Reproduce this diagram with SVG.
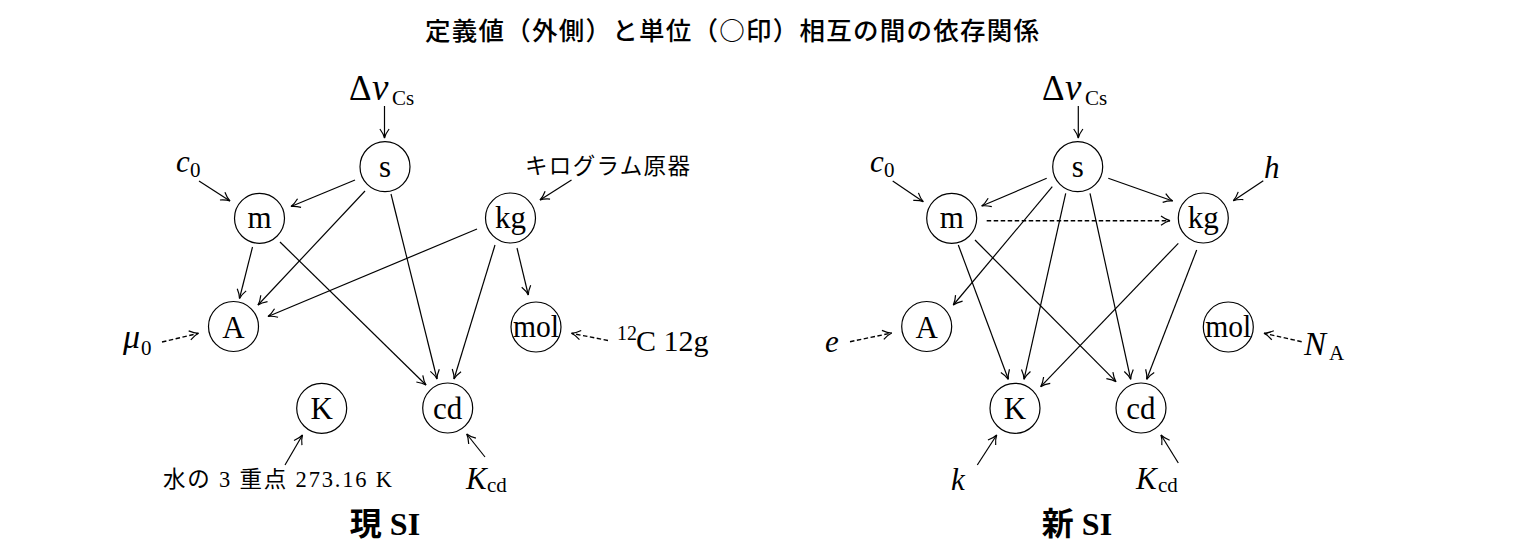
<svg xmlns="http://www.w3.org/2000/svg" width="1517" height="553" viewBox="0 0 1517 553">
<style>
.node circle{fill:#fff;stroke:#000;stroke-width:1.2}
.lbl{font-family:"Liberation Serif",serif;font-size:31px;text-anchor:middle;fill:#000}
.m{font-family:"Liberation Serif",serif;font-size:31px;font-style:italic;fill:#000}
.r{font-family:"Liberation Serif",serif;font-style:normal;fill:#000}
.sub{font-family:"Liberation Serif",serif;font-size:21px;font-style:normal;fill:#000}
.jp{font-family:"Noto Sans CJK JP",sans-serif;fill:#000}
.edges line{stroke:#000;stroke-width:1.2;fill:none;marker-end:url(#ah)}
.edges line.d{stroke-dasharray:4.5 2.5;stroke-width:1.4}
.ttl{font-family:"Liberation Serif","Noto Sans CJK JP",serif;font-weight:bold;font-size:32px;fill:#000;text-anchor:middle}
</style>
<defs>
<marker id="ah" viewBox="-11 -6 13 12" refX="0" refY="0" markerWidth="13" markerHeight="12" markerUnits="userSpaceOnUse" orient="auto">
<path d="M-9,-4.6 C-5.5,-2 -2.2,-0.5 0,0 C-2.2,0.5 -5.5,2 -9,4.6" fill="none" stroke="#000" stroke-width="1.2"/>
</marker>
</defs>
<rect width="1517" height="553" fill="#fff"/>
<text class="jp" x="425" y="40" font-size="25.5" font-weight="500" textLength="614" lengthAdjust="spacing">定義値（外側）と単位（○印）相互の間の依存関係</text>

<g class="edges" id="edges-left">
<line x1="384.5" y1="106" x2="384.5" y2="138"/>
<line x1="199" y1="181" x2="230" y2="201"/>
<line x1="355" y1="180" x2="291" y2="206.5"/>
<line x1="365" y1="191" x2="258" y2="305"/>
<line x1="391" y1="194" x2="437" y2="379"/>
<line x1="252.5" y1="247" x2="239.5" y2="298.5"/>
<line x1="280" y1="242" x2="426" y2="385"/>
<line x1="477" y1="229" x2="268" y2="316.5"/>
<line x1="495" y1="245" x2="454" y2="379"/>
<line x1="517" y1="248" x2="528.3" y2="295"/>
<line x1="571.5" y1="180" x2="540" y2="200"/>
<line class="d" x1="162" y1="342" x2="198.5" y2="333.3"/>
<line class="d" x1="608" y1="340.5" x2="571.5" y2="333.3"/>
<line x1="285" y1="465" x2="302.5" y2="435"/>
<line x1="485" y1="457" x2="466.7" y2="434"/>
</g>

<g class="edges" id="edges-right">
<line x1="1078.3" y1="106" x2="1078.3" y2="138"/>
<line x1="892.7" y1="181" x2="923.3" y2="201.7"/>
<line x1="1046.7" y1="178.3" x2="981.7" y2="206"/>
<line x1="1108.3" y1="178.3" x2="1172.7" y2="201"/>
<line class="d" x1="986.7" y1="220.7" x2="1170" y2="220.7"/>
<line x1="1052.3" y1="186.7" x2="953.3" y2="305"/>
<line x1="1065.7" y1="193.3" x2="1024" y2="379.3"/>
<line x1="1090" y1="193.3" x2="1130.7" y2="379.3"/>
<line x1="958.3" y1="245" x2="1008.3" y2="379.3"/>
<line x1="975" y1="240" x2="1116" y2="381.7"/>
<line x1="1178.3" y1="243.3" x2="1040.7" y2="386.7"/>
<line x1="1196.7" y1="250" x2="1146.7" y2="379.3"/>
<line x1="1263.3" y1="180.7" x2="1233.3" y2="200.7"/>
<line class="d" x1="850" y1="341.7" x2="891.7" y2="333"/>
<line class="d" x1="1301.7" y1="341.7" x2="1264" y2="333.3"/>
<line x1="977.3" y1="465" x2="996.7" y2="435"/>
<line x1="1178.3" y1="463" x2="1161" y2="435"/>
</g>

<g id="left-s" class="node"><circle cx="385" cy="166.7" r="25"/><text class="lbl" x="385" y="176.5">s</text></g>
<g id="left-m" class="node"><circle cx="259.5" cy="218.3" r="25"/><text class="lbl" x="259.5" y="228">m</text></g>
<g id="left-kg" class="node"><circle cx="510.5" cy="218" r="25"/><text class="lbl" x="510.5" y="228">kg</text></g>
<g id="left-A" class="node"><circle cx="233.5" cy="326.5" r="25"/><text class="lbl" x="233.5" y="337.5">A</text></g>
<g id="left-mol" class="node"><circle cx="536" cy="327" r="25"/><text class="lbl" x="536" y="337" font-size="29" textLength="46" lengthAdjust="spacingAndGlyphs">mol</text></g>
<g id="left-K" class="node"><circle cx="321.7" cy="408.3" r="25"/><text class="lbl" x="321.7" y="419">K</text></g>
<g id="left-cd" class="node"><circle cx="447.7" cy="408" r="25"/><text class="lbl" x="447.7" y="418.5">cd</text></g>

<g id="right-s" class="node"><circle cx="1077.7" cy="166.7" r="25"/><text class="lbl" x="1077.7" y="176.5">s</text></g>
<g id="right-m" class="node"><circle cx="951.7" cy="218.3" r="25"/><text class="lbl" x="951.7" y="228">m</text></g>
<g id="right-kg" class="node"><circle cx="1203.3" cy="218" r="25"/><text class="lbl" x="1203.3" y="228">kg</text></g>
<g id="right-A" class="node"><circle cx="926.7" cy="326.5" r="25"/><text class="lbl" x="926.7" y="337.5">A</text></g>
<g id="right-mol" class="node"><circle cx="1228.3" cy="327" r="25"/><text class="lbl" x="1228.3" y="337" font-size="29" textLength="46" lengthAdjust="spacingAndGlyphs">mol</text></g>
<g id="right-K" class="node"><circle cx="1015" cy="408.3" r="25"/><text class="lbl" x="1015" y="419">K</text></g>
<g id="right-cd" class="node"><circle cx="1141" cy="408" r="25"/><text class="lbl" x="1141" y="418.5">cd</text></g>

<g id="labels-left">
<text class="m" y="100"><tspan class="r" x="349" font-size="35">Δ</tspan><tspan x="372" font-size="37">ν</tspan><tspan class="sub" x="392" y="104.5" font-size="20">Cs</tspan></text>
<text class="m" y="172"><tspan x="176">c</tspan><tspan class="sub" x="190" y="177">0</tspan></text>
<text class="jp" x="525" y="174" font-size="22.5" textLength="165" lengthAdjust="spacing">キログラム原器</text>
<text class="m" y="348"><tspan x="123" font-size="34">μ</tspan><tspan class="sub" x="141" y="355">0</tspan></text>
<text class="r" y="351" font-size="30"><tspan x="617" y="340" font-size="20">12</tspan><tspan x="636" y="351">C 12g</tspan></text>
<text class="r" x="163" y="487" font-size="22.5" textLength="229" lengthAdjust="spacing"><tspan class="jp">水の</tspan> 3 <tspan class="jp">重点</tspan> 273.16 K</text>
<text class="m" y="489"><tspan x="466">K</tspan><tspan class="sub" x="487" y="492">cd</tspan></text>
<text class="ttl" x="385" y="535">現 SI</text>
</g>

<g id="labels-right">
<text class="m" y="100"><tspan class="r" x="1042" font-size="35">Δ</tspan><tspan x="1065" font-size="37">ν</tspan><tspan class="sub" x="1085" y="104.5" font-size="20">Cs</tspan></text>
<text class="m" y="172"><tspan x="870">c</tspan><tspan class="sub" x="884" y="177">0</tspan></text>
<text class="m" x="1264" y="178">h</text>
<text class="m" x="825" y="352">e</text>
<text class="m" y="355"><tspan x="1304" font-size="33">N</tspan><tspan class="sub" x="1329" y="360">A</tspan></text>
<text class="m" x="951" y="490">k</text>
<text class="m" y="489"><tspan x="1136">K</tspan><tspan class="sub" x="1158" y="492">cd</tspan></text>
<text class="ttl" x="1077" y="535">新 SI</text>
</g>
</svg>
